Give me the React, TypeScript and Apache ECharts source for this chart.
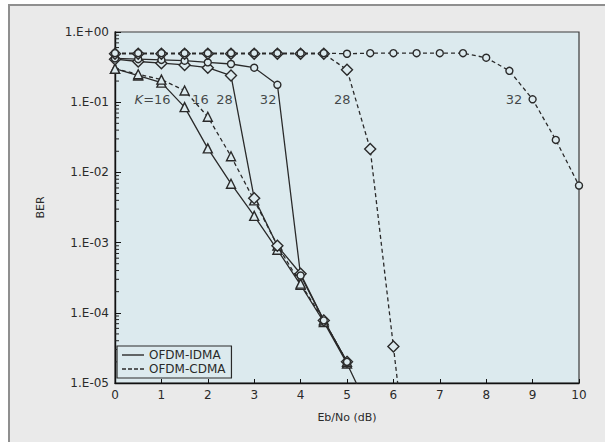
import React, { useEffect, useRef } from "react";
import * as echarts from "echarts";

const xs = [0, 0.5, 1, 1.5, 2, 2.5, 3, 3.5, 4, 4.5, 5, 5.5, 6, 6.5, 7, 7.5, 8, 8.5, 9, 9.5, 10];
const xTicks = [0, 1, 2, 3, 4, 5, 6, 7, 8, 9, 10];
const decades = [1e-5, 1e-4, 1e-3, 1e-2, 1e-1];
const minorMultipliers = [2, 3, 4, 5, 6, 7, 8, 9];

const idma16 = [0.30, 0.24, 0.19, 0.085, 0.022, 0.0069, 0.0024, 0.00079, 0.00025, 7.4e-5, 1.9e-5, 3.8e-6];
const cdma16 = [0.30, 0.25, 0.21, 0.147, 0.062, 0.017, 0.004, 0.00091, 0.00026, 7.8e-5, 2.0e-5];
const idma28 = [0.41, 0.38, 0.36, 0.34, 0.31, 0.24, 0.0043, 0.0009, 0.00036, 7.8e-5, 2.0e-5];
const idma32 = [0.42, 0.41, 0.40, 0.39, 0.37, 0.35, 0.31, 0.177, 0.00034, 7.8e-5, 2.0e-5];
const cdma28 = [0.49, 0.49, 0.49, 0.49, 0.49, 0.49, 0.49, 0.49, 0.49, 0.49, 0.29, 0.0215, 3.3e-5, 5e-8];
const cdma32 = [0.5, 0.5, 0.5, 0.5, 0.5, 0.5, 0.5, 0.5, 0.5, 0.5, 0.49, 0.5, 0.5, 0.5, 0.5, 0.5, 0.43, 0.28, 0.11, 0.029, 0.0065];

// curve annotations
const annX = [0.81, 1.84, 2.36, 3.3, 4.9, 8.6];
const annY = [0.11, 0.11, 0.11, 0.11, 0.11, 0.11];
const annText = ["{i|K}=16", "16", "28", "32", "28", "32"];

const FONT = "DejaVu Sans";
const INK = "#2a2a2a";
const PLOT_BG = "#dceaee";

function toData(vals: number[], lastHidden: boolean) {
  return vals.map((v, i) => {
    const item: any = { value: [xs[i], v] };
    if (lastHidden && i === vals.length - 1) item.symbol = "none";
    return item;
  });
}

function curve(name: string, vals: number[], dashed: boolean, symbol: string, size: number, lastHidden = false) {
  return {
    name,
    type: "line",
    data: toData(vals, lastHidden),
    symbol,
    symbolSize: size,
    showAllSymbol: true,
    clip: true,
    lineStyle: { color: INK, width: 1.3, type: dashed ? [4, 3] : "solid" },
    itemStyle: { color: PLOT_BG, borderColor: INK, borderWidth: 1.4 },
    z: 3,
  };
}

const solidIcon = "path://M0,0h22v1.4h-22z";
const dashIcon = "path://M0,0h4v1.4h-4zM6,0h4v1.4h-4zM12,0h4v1.4h-4zM18,0h4v1.4h-4z";

export default function App() {
  const ref = useRef<HTMLDivElement>(null);
  useEffect(() => {
    if (!ref.current) return;
    const chart = echarts.init(ref.current, null, { renderer: "svg" });
    const fmt = (v: number) => {
      const e = Math.round(Math.log10(v));
      return "1.E" + (e >= 0 ? "+" : "-") + String(Math.abs(e)).padStart(2, "0");
    };
    const minorVals: number[][] = [];
    decades.forEach((d) => minorMultipliers.forEach((m) => minorVals.push([0, d * m])));
    chart.setOption({
      animation: false,
      backgroundColor: "transparent",
      textStyle: { fontFamily: FONT },
      grid: {
        left: 115,
        top: 32,
        right: 26,
        bottom: 59,
        show: true,
        backgroundColor: PLOT_BG,
        borderColor: "#3a3a3a",
        borderWidth: 1.2,
      },
      legend: {
        data: [
          { name: "OFDM-IDMA", icon: solidIcon },
          { name: "OFDM-CDMA", icon: dashIcon },
        ],
        orient: "vertical",
        left: 117,
        top: 346,
        backgroundColor: PLOT_BG,
        borderColor: INK,
        borderWidth: 1.2,
        borderRadius: 0,
        padding: [3, 6, 3, 5],
        itemGap: 2,
        itemWidth: 22,
        itemHeight: 1.4,
        textStyle: { fontFamily: FONT, fontSize: 12, lineHeight: 12, color: INK },
      },
      xAxis: {
        type: "value",
        min: 0,
        max: 10,
        interval: 1,
        name: "Eb/No (dB)",
        nameLocation: "middle",
        nameGap: 29,
        nameTextStyle: { fontFamily: FONT, fontSize: 11, color: INK },
        axisLine: { show: true, onZero: false, lineStyle: { color: "#111", width: 1.4 } },
        axisTick: { show: true, inside: true, length: 4, lineStyle: { color: "#111" } },
        axisLabel: {
          fontFamily: FONT,
          fontSize: 12,
          color: INK,
          margin: 6,
          formatter: (v: number) => (xTicks.includes(v) ? String(v) : ""),
        },
        splitLine: { show: false },
      },
      yAxis: {
        type: "log",
        logBase: 10,
        min: 1e-5,
        max: 1,
        name: "BER",
        nameLocation: "middle",
        nameGap: 69,
        nameTextStyle: { fontFamily: FONT, fontSize: 11, color: INK },
        axisLine: { show: true, onZero: false, lineStyle: { color: "#111", width: 1.4 } },
        axisTick: { show: true, inside: true, length: 6, lineStyle: { color: "#111" } },
        minorTick: { show: false },
        axisLabel: { fontFamily: FONT, fontSize: 12, color: INK, margin: 6, formatter: fmt },
        splitLine: { show: false },
        minorSplitLine: { show: false },
      },
      series: [
        {
          name: "minorTicks",
          type: "custom",
          data: minorVals,
          silent: true,
          z: 2,
          renderItem: (params: any, api: any) => {
            const p = api.coord([api.value(0), api.value(1)]);
            return {
              type: "line",
              shape: { x1: p[0], y1: p[1], x2: p[0] + 4, y2: p[1] },
              style: { stroke: "#222", lineWidth: 1 },
            };
          },
        },
        curve("IDMA K=16", idma16, false, "triangle", 9, true),
        curve("CDMA K=16", cdma16, true, "triangle", 9),
        curve("IDMA K=28", idma28, false, "diamond", 11),
        curve("IDMA K=32", idma32, false, "circle", 7),
        curve("CDMA K=28", cdma28, true, "diamond", 11, true),
        curve("CDMA K=32", cdma32, true, "circle", 7),
        {
          name: "OFDM-IDMA",
          type: "line",
          data: [],
          symbol: "none",
          lineStyle: { color: INK, width: 1.3, type: "solid" },
          itemStyle: { color: INK },
        },
        {
          name: "OFDM-CDMA",
          type: "line",
          data: [],
          symbol: "none",
          lineStyle: { color: INK, width: 1.3, type: [3, 3] },
          itemStyle: { color: INK },
        },
        {
          name: "labels",
          type: "scatter",
          symbolSize: 0,
          z: 4,
          data: annX.map((x, i) => [x, annY[i]]),
          label: {
            show: true,
            position: "inside",
            fontFamily: FONT,
            fontSize: 13,
            color: "#1a1a1a",
            formatter: (p: any) => annText[p.dataIndex],
            rich: { i: { fontStyle: "italic", fontFamily: FONT, fontSize: 13, color: "#1a1a1a" } },
          },
        },
      ],
    });
    return () => chart.dispose();
  }, []);
  return (
    <div style={{ position: "absolute", left: 0, top: 0, width: 605, height: 442, overflow: "hidden", background: "#ffffff" }}>
      <div
        style={{
          position: "absolute",
          left: 8,
          top: 4,
          width: 640,
          height: 480,
          background: "#eaeaea",
          borderLeft: "2px solid #8f8f8f",
          borderTop: "2px solid #8f8f8f",
        }}
      />
      <div ref={ref} style={{ position: "absolute", left: 0, top: 0, width: 605, height: 442 }} />
    </div>
  );
}
